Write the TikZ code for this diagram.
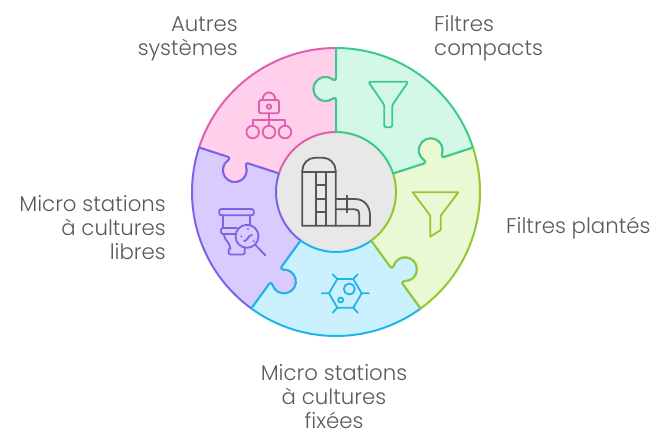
\documentclass[tikz,border=0pt]{standalone}
\usepackage{fontspec}
\setmainfont{Poppins Light}
\definecolor{pinkF}{HTML}{FFCFEB}\definecolor{pinkL}{HTML}{E05FAE}
\definecolor{mintF}{HTML}{D3F8E8}\definecolor{mintL}{HTML}{3CC98C}
\definecolor{limeF}{HTML}{EAF8D4}\definecolor{limeL}{HTML}{93C82F}
\definecolor{blueF}{HTML}{CBF1FF}\definecolor{blueL}{HTML}{1FB5E8}
\definecolor{purpF}{HTML}{D8CCFF}\definecolor{purpL}{HTML}{7D63E6}
\definecolor{hubF}{HTML}{E8E8E8}\definecolor{inkD}{HTML}{555555}\definecolor{txt}{HTML}{5A5A5A}
\newcommand{\puzzlesector}[3]{%
  \begin{scope}[shift={(336pt,-192pt)},rotate=#3]
  \filldraw[fill=#1,draw=#2,line width=2pt,line join=round]
    (0,60) -- (0,92.5) .. controls (0,94.2) and (-1.6,94.6) .. (-2.95,93.67)
    arc[start angle=-51,end angle=-309,radius=12pt]
    .. controls (-1.6,111.4) and (0,111.8) .. (0,113.5) -- (0,144)
    arc[start angle=90,end angle=18,radius=144pt]
    {[rotate=-72] -- (0,113.5) .. controls (0,111.8) and (-1.6,111.4) .. (-2.95,112.33)
    arc[start angle=51,end angle=309,radius=12pt]
    .. controls (-1.6,94.6) and (0,94.2) .. (0,92.5) -- (0,60)}
    arc[start angle=18,end angle=90,radius=60pt] -- cycle;
  \end{scope}}
\tikzset{
  label text/.style={text=txt,font=\fontsize{21.3}{24}\selectfont,inner sep=0pt},
  icon/.style={line width=1.8pt,line join=round,line cap=round,fill=none},
}
\begin{document}
\begin{tikzpicture}[x=1pt,y=1pt]
\useasboundingbox (0,-444) rectangle (672,0);
\fill[hubF] (336,-192) circle[radius=60pt];
\puzzlesector{pinkF}{pinkL}{72}
\puzzlesector{purpF}{purpL}{144}
\puzzlesector{blueF}{blueL}{216}
\puzzlesector{limeF}{limeL}{288}
\puzzlesector{mintF}{mintL}{0}
\begin{scope}[y=-1pt]
% hub icon
\draw[icon,draw=inkD,rounded corners=13pt] (302.3,225.7) -- (302.3,157.7) -- (335.7,157.7) -- (335.7,225.7);
\draw[icon,draw=inkD] (302.3,225.7) -- (370,225.7) -- (370,215) .. controls (370,206) and (364,199) .. (355,199) -- (335.7,199);
\draw[icon,draw=inkD] (302.3,171.7) -- (335.7,171.7);
\draw[icon,draw=inkD] (315.7,171.7) -- (315.7,225.7) (326,171.7) -- (326,225.7);
\draw[icon,draw=inkD] (315.7,185) -- (326,185) (315.7,199) -- (326,199) (315.7,212.3) -- (326,212.3);
\draw[icon,draw=inkD] (335.7,209.3) -- (355,209.3) .. controls (358,209.3) and (359.3,211) .. (359.3,214) -- (359.3,225.7);
\draw[icon,draw=inkD] (347.3,195.7) -- (347.3,212.3);
% pink icon
\draw[icon,draw=pinkL,rounded corners=1.5pt] (259,100) rectangle (279,113.3);
\draw[icon,draw=pinkL] (262.7,100) .. controls (262.7,90) and (275.3,90) .. (275.3,100);
\draw[icon,draw=pinkL] (269,106.7) circle[radius=2.2pt];
\draw[icon,draw=pinkL] (269,113.3) -- (269,125.7) (252.7,125.7) -- (252.7,120) -- (285,120) -- (285,125.7);
\foreach \xc in {252.7,269,285} \draw[icon,draw=pinkL] (\xc,132) circle[radius=6.3pt];
% mint funnel
\draw[icon,draw=mintL,rounded corners=1.5pt] (368.3,81.7) -- (408.3,81.7) -- (392.3,105) -- (392.3,127.3) -- (384.3,127.3) -- (384.3,105) -- cycle;
% lime funnel
\draw[icon,draw=limeL] (412.7,192.3) -- (458.3,192.3) -- (440.7,215.7) -- (440.7,230) -- (430.3,236.7) -- (430.3,215.7) -- cycle;
% blue icon
\draw[icon,draw=blueL] (329,293.3) -- (337.3,279) -- (353.3,279) -- (361.7,293.3) -- (353.3,307.7) -- (337.3,307.7) -- cycle;
\draw[icon,draw=blueL] (321.7,293.3) -- (329,293.3) (361.7,293.3) -- (369,293.3) (332.7,274.3) -- (337.3,279) (357.7,274.3) -- (353.3,279) (332.7,312.7) -- (337.3,307.7) (357.7,312.7) -- (353.3,307.7);
\draw[icon,draw=blueL] (349.3,289) circle[radius=5.5pt] (340.7,300) circle[radius=2.5pt];
% purple icon
\draw[icon,draw=purpL,rounded corners=2pt] (219.3,209) rectangle (253.7,215.3);
\draw[icon,draw=purpL] (222.7,215.3) -- (222.7,228) (250.3,215.3) -- (250.3,225.5);
\draw[icon,draw=purpL,rounded corners=2pt] (237,228) -- (221,228) -- (221,234) -- (236.5,234);
\draw[icon,draw=purpL] (223.7,234) .. controls (224,240) and (230,242) .. (230.5,249);
\draw[icon,draw=purpL,rounded corners=1.5pt] (228.7,249) -- (228.7,254.5) -- (244.7,254.5) -- (244.7,247.5);
\draw[icon,draw=purpL] (247,236.3) circle[radius=11.5pt];
\draw[icon,draw=purpL] (255.5,245) -- (265.3,255.3);
\draw[icon,draw=purpL] (244,241) .. controls (247,242) and (249,234) .. (252,235);
\fill[purpL] (241.3,236.3) circle[radius=1.1pt] (248,229) circle[radius=1.1pt] (253.7,241.3) circle[radius=1.1pt];
% labels
\node[label text,align=right,anchor=east] (autres) at (238,38.5) {Autres\\systèmes};
\node[label text,align=left,anchor=west] (compacts) at (434,38.5) {Filtres\\compacts};
\node[label text,anchor=west] (plantes) at (506,228.5) {Filtres plantés};
\node[label text,align=center] (fixees) at (334,397) {Micro stations\\à cultures\\fixées};
\node[label text,align=right,anchor=east] (libres) at (166,228) {Micro stations\\à cultures\\libres};
\end{scope}
\end{tikzpicture}
\end{document}
